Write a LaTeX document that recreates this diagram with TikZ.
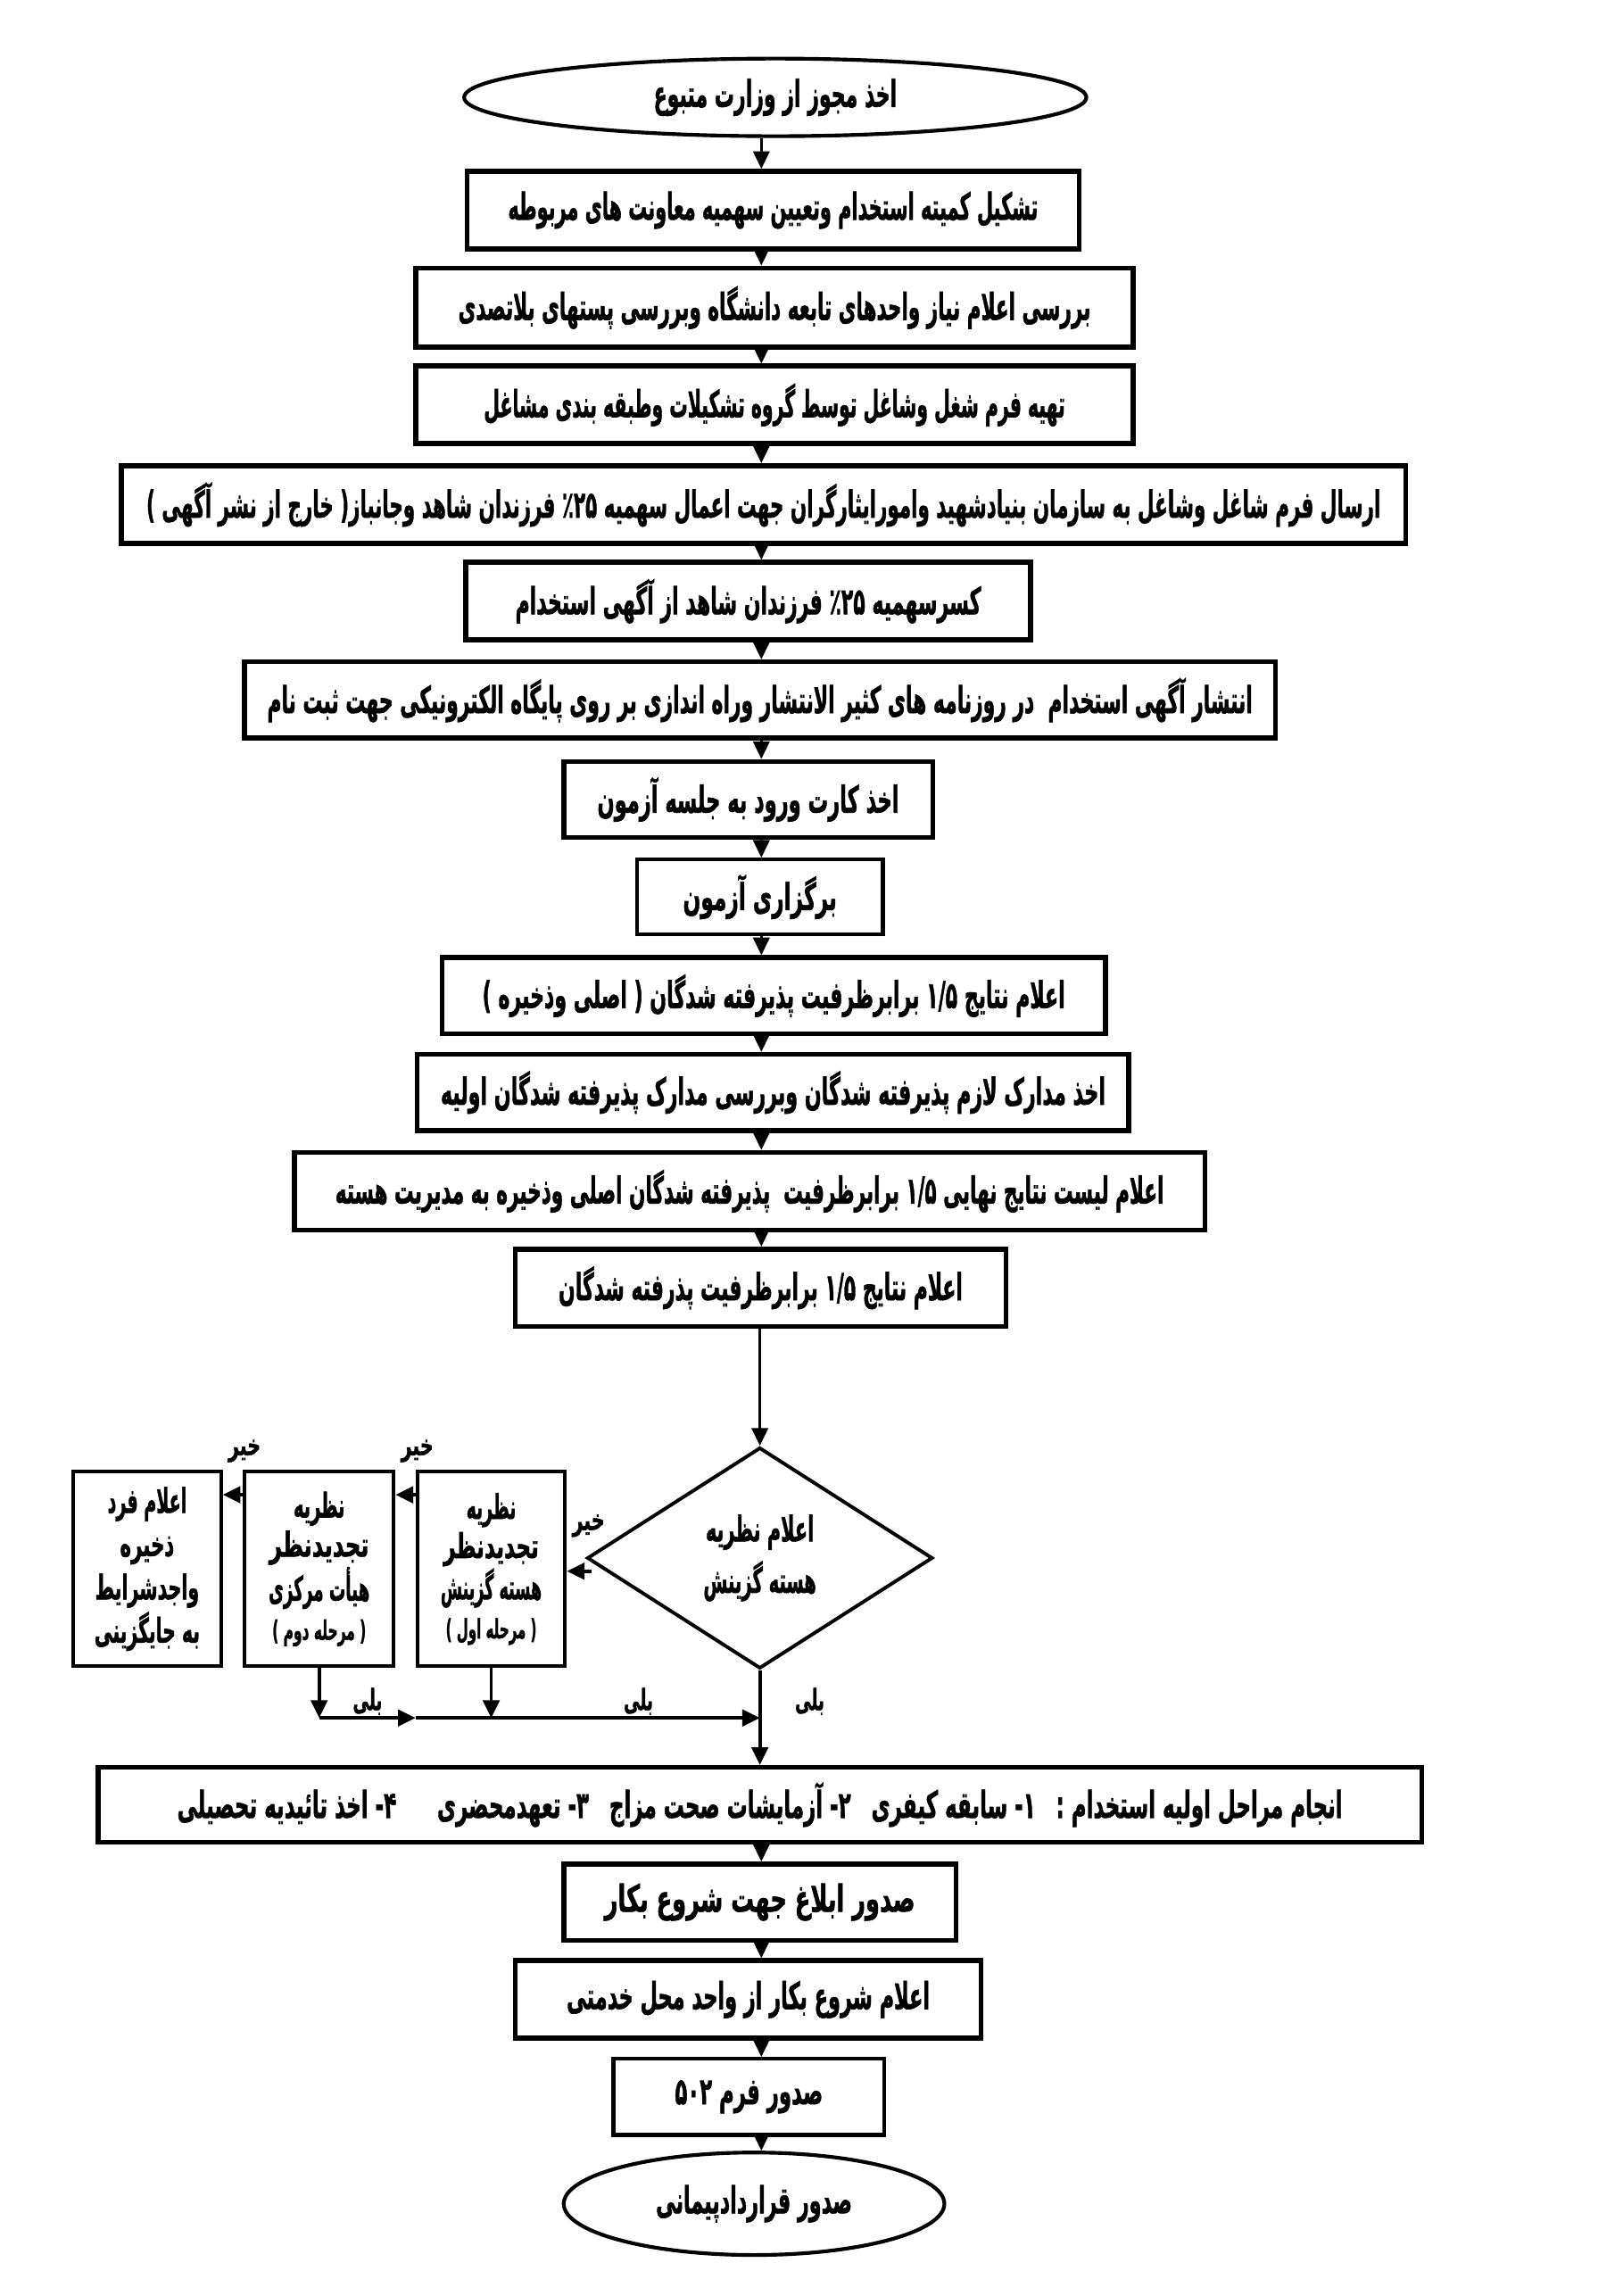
\documentclass[tikz,border=0pt]{standalone}
\usepackage{fontspec}
\usepackage{graphicx}
\usetikzlibrary{shapes.geometric,arrows.meta,calc}
\TeXXeTstate=1
\newfontfamily\fa[Script=Arabic, BoldFeatures={FakeBold=1.6}]{DejaVu Sans}
\newlength\pxu \setlength\pxu{0.025cm}
\newcommand\ft[2]{\resizebox{#1\pxu}{\height}{\fa\bfseries #2}}
\tikzset{
  box/.style={draw, line width=2.4pt, rectangle, inner sep=0pt, font=\fontsize{18}{22}\selectfont, align=center},
  thinbox/.style={box, line width=1.8pt},
  sidebox/.style={box, line width=1.7pt, font=\fontsize{16.5}{19}\selectfont},
  oval/.style={draw, ellipse, line width=1.8pt, inner sep=0pt, font=\fontsize{18}{22}\selectfont},
  sz/.style 2 args={minimum width=#1*0.025cm, minimum height=#2*0.025cm},
  arr/.style={-{Triangle[length=0.3cm,width=0.28cm]}, line width=1.2pt},
  yarr/.style={arr, line width=1.6pt},
  lbl/.style={inner sep=0pt, font=\fontsize{14}{15}\selectfont}
}
\begin{document}
\begin{tikzpicture}[x=0.025cm,y=-0.025cm]
\fill[white] (0,0) rectangle (1108,1568);
\useasboundingbox (0,0) rectangle (1108,1568);
\coordinate (col) at (520,0);

\node[oval, sz={425}{53}] (e1) at (529.5,66.5) {\ft{166}{\beginR اخذ مجوز از وزارت متبوع\endR}};
\node[box, sz={418}{53}] (b2) at (528,143.5) {\ft{362}{\beginR تشکیل کمیته استخدام وتعیین سهمیه معاونت های مربوطه\endR}};
\node[box, sz={490}{54}] (b3) at (529,210) {\ft{432}{\beginR بررسی اعلام نیاز واحدهای تابعه دانشگاه وبررسی پستهای بلاتصدی\endR}};
\node[box, sz={490}{53}] (b4) at (529,276.5) {\ft{397}{\beginR تهیه فرم شغل وشاغل توسط گروه تشکیلات وطبقه بندی مشاغل\endR}};
\node[box, sz={877}{53}] (b5) at (521.5,344.5) {\ft{843}{\beginR ارسال فرم شاغل وشاغل به سازمان بنیادشهید وامورایثارگران جهت اعمال سهمیه ٪۲۵ فرزندان شاهد وجانباز( خارج از نشر آگهی )\endR}};
\node[box, sz={386}{53}] (b6) at (511,410.5) {\ft{318}{\beginR کسرسهمیه ٪۲۵ فرزندان شاهد از آگهی استخدام\endR}};
\node[box, sz={704}{52}] (b7) at (519,478) {\ft{673}{\beginR انتشار آگهی استخدام\ \ در روزنامه های کثیر الانتشار وراه اندازی بر روی پایگاه الکترونیکی جهت ثبت نام\endR}};
\node[box, sz={252}{52}] (b8) at (511,546) {\ft{206}{\beginR اخذ کارت ورود به جلسه آزمون\endR}};
\node[thinbox, sz={168}{51}] (b9) at (519,612.5) {\ft{105}{\beginR برگزاری آزمون\endR}};
\node[box, sz={453}{52}] (b10) at (528.5,680) {\ft{398}{\beginR اعلام نتایج ۱/۵ برابرظرفیت پذیرفته شدگان ( اصلی وذخیره )\endR}};
\node[box, sz={486}{52}] (b11) at (528,746) {\ft{454}{\beginR اخذ مدارک لازم پذیرفته شدگان وبررسی مدارک پذیرفته شدگان اولیه\endR}};
\node[box, sz={622}{53}] (b12) at (512,813.5) {\ft{566}{\beginR اعلام لیست نتایج نهایی ۱/۵ برابرظرفیت\ \ پذیرفته شدگان اصلی وذخیره به مدیریت هسته\endR}};
\node[box, sz={335}{53}] (b13) at (519.5,879.5) {\ft{276}{\beginR اعلام نتایج ۱/۵ برابرظرفیت پذرفته شدگان\endR}};

\node[draw, diamond, line width=1.7pt, inner sep=0pt, aspect=1.56, sz={236}{151}, align=center, font=\fontsize{17}{25}\selectfont] (d) at (519,1064) {\ft{74}{\beginR اعلام نظریه\endR}\\\ft{77}{\beginR هسته گزینش\endR}};

\node[sidebox, sz={101}{133}] (ra) at (335.5,1071.5) {\ft{34}{\beginR نظریه\endR}\\\ft{65}{\beginR تجدیدنظر\endR}\\\ft{69}{\beginR هسته گزینش\endR}\\{\fontsize{13}{19}\selectfont\ft{62}{\beginR ( مرحله اول )\endR}}};
\node[sidebox, sz={102}{133}] (rb) at (218,1071.5) {\ft{35}{\beginR نظریه\endR}\\\ft{68}{\beginR تجدیدنظر\endR}\\\ft{69}{\beginR هیأت مرکزی\endR}\\{\fontsize{13}{19}\selectfont\ft{64}{\beginR ( مرحله دوم )\endR}}};
\node[sidebox, sz={101}{133}, font=\fontsize{16.5}{21}\selectfont] (rc) at (100.5,1071.5) {\ft{54}{\beginR اعلام فرد\endR}\\\ft{37}{\beginR ذخیره\endR}\\\ft{71}{\beginR واجدشرایط\endR}\\\ft{72}{\beginR به جایگزینی\endR}};

\node[box, sz={904}{51}] (b14) at (519,1232.5) {\ft{796}{\beginR انجام مراحل اولیه استخدام :\quad ۱- سابقه کیفری\quad ۲- آزمایشات صحت مزاج\quad ۳- تعهدمحضری\quad\quad ۴- اخذ تائیدیه تحصیلی\endR}};
\node[box, sz={268}{52}] (b15) at (519,1299) {\ft{212}{\beginR صدور ابلاغ جهت شروع بکار\endR}};
\node[box, sz={318}{53}] (b16) at (511,1365.5) {\ft{248}{\beginR اعلام شروع بکار از واحد محل خدمتی\endR}};
\node[thinbox, sz={185}{52}] (b17) at (511.5,1432) {\ft{101}{\beginR صدور فرم ۵۰۲\endR}};
\node[oval, sz={260}{70}] (e2) at (515,1505) {\ft{134}{\beginR صدور قراردادپیمانی\endR}};

% labels
\node[lbl] (no1) at (402,1042) {\ft{22}{\beginR خیر\endR}};
\node[lbl] (no2) at (285,991) {\ft{22}{\beginR خیر\endR}};
\node[lbl] (no3) at (167,991) {\ft{22}{\beginR خیر\endR}};
\node[lbl] (yes1) at (553,1162) {\ft{20}{\beginR بلی\endR}};
\node[lbl] (yes2) at (436,1162) {\ft{20}{\beginR بلی\endR}};
\node[lbl] (yes3) at (251,1162) {\ft{20}{\beginR بلی\endR}};

% main column
\draw[arr] (e1.south -| col) -- (b2.north -| col);
\draw[arr] (b2.south -| col) -- (b3.north -| col);
\draw[arr] (b3.south -| col) -- (b4.north -| col);
\draw[arr] (b4.south -| col) -- (b5.north -| col);
\draw[arr] (b5.south -| col) -- (b6.north -| col);
\draw[arr] (b6.south -| col) -- (b7.north -| col);
\draw[arr] (b7.south -| col) -- (b8.north -| col);
\draw[arr] (b8.south -| col) -- (b9.north -| col);
\draw[arr] (b9.south -| col) -- (b10.north -| col);
\draw[arr] (b10.south -| col) -- (b11.north -| col);
\draw[arr] (b11.south -| col) -- (b12.north -| col);
\draw[arr] (b12.south -| col) -- (b13.north -| col);
\draw[arr] (b13.south -| d.north) -- (d.north);
\draw[yarr] (d.south) -- (d.south |- b14.north);
\draw[arr] (b14.south -| col) -- (b15.north -| col);
\draw[arr] (b15.south -| col) -- (b16.north -| col);
\draw[arr] (b16.south -| col) -- (b17.north -| col);
\draw[arr] (b17.south -| col) -- (e2.north -| col);

% no branches
\coordinate (dn) at ($(d.west)+(4,9)$);
\draw[yarr] (dn) -- (dn -| ra.east);
\coordinate (an) at ($(ra.north west)+(0,17)$);
\draw[yarr] (an) -- (an -| rb.east);
\coordinate (bn) at ($(rb.north west)+(0,17)$);
\draw[yarr] (bn) -- (bn -| rc.east);

% yes branches
\coordinate (jb) at ($(rb.south)+(0,34)$);
\coordinate (ja) at ($(ra.south)+(0,34)$);
\coordinate (jm) at (jb -| ra.west);
\coordinate (jd) at (jb -| d.south);
\draw[yarr] (rb.south) -- (jb);
\draw[yarr] (ra.south) -- (ja);
\draw[yarr] (jb) -- (jm);
\draw[yarr] (jm) -- (jd);
\end{tikzpicture}
\end{document}
